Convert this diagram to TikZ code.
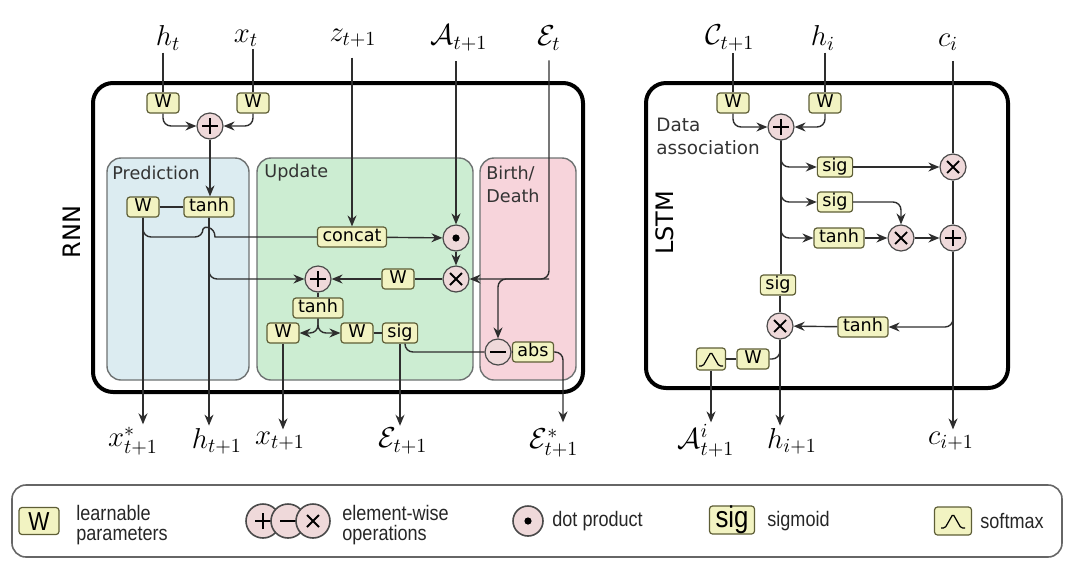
\documentclass[tikz,border=0pt]{standalone}
\usepackage{fontspec}
\usepackage{amsmath}
\usepackage{amssymb}
\usetikzlibrary{arrows.meta,calc,positioning}
\newfontfamily\diafont{DejaVu Sans}
\newfontfamily\legfont[FakeStretch=0.86]{Liberation Sans}
\definecolor{boxfill}{HTML}{F2F3C2}
\definecolor{boxline}{HTML}{5E5E36}
\definecolor{opfill}{HTML}{EFD9DA}
\definecolor{opline}{HTML}{4A4A4A}
\definecolor{predfill}{HTML}{DCECF1}
\definecolor{updfill}{HTML}{CCEDD2}
\definecolor{bdfill}{HTML}{F7D4DB}
\definecolor{panelline}{HTML}{6E7272}
\definecolor{wirecol}{HTML}{2E2E2E}
\tikzset{
  fn/.style={draw=boxline, fill=boxfill, rounded corners=1.5pt, line width=0.6pt,
    font=\diafont\fontsize{8.8}{10}\selectfont, inner xsep=2.5pt, inner ysep=0.75pt,
    text height=6.6pt, text depth=1.9pt, minimum width=16pt},
  op/.style={circle, draw=opline, fill=opfill, line width=0.6pt, minimum size=13pt, inner sep=0pt},
  addop/.style={op, path picture={\draw[black, line width=0.9pt]
    ([xshift=-4pt]path picture bounding box.center) -- ([xshift=4pt]path picture bounding box.center)
    ([yshift=-4pt]path picture bounding box.center) -- ([yshift=4pt]path picture bounding box.center);}},
  mulop/.style={op, path picture={\draw[black, line width=0.9pt]
    ([shift={(-3pt,-3pt)}]path picture bounding box.center) -- ([shift={(3pt,3pt)}]path picture bounding box.center)
    ([shift={(-3pt,3pt)}]path picture bounding box.center) -- ([shift={(3pt,-3pt)}]path picture bounding box.center);}},
  subop/.style={op, path picture={\draw[black, line width=1.1pt]
    ([xshift=-4pt]path picture bounding box.center) -- ([xshift=4pt]path picture bounding box.center);}},
  dotop/.style={op, path picture={\fill[black] (path picture bounding box.center) circle (1.8pt);}},
  smaxbox/.style={draw=boxline, fill=boxfill, rounded corners=1.5pt, line width=0.6pt,
    minimum width=14.5pt, minimum height=11pt, inner sep=0pt,
    path picture={\draw[black, line width=0.6pt, rounded corners=0.8pt]
      ([shift={(-6pt,-3.5pt)}]path picture bounding box.center) -- ([shift={(-4pt,-3.5pt)}]path picture bounding box.center)
      -- ([shift={(0pt,3.5pt)}]path picture bounding box.center) -- ([shift={(4pt,-3.5pt)}]path picture bounding box.center)
      -- ([shift={(6pt,-3.5pt)}]path picture bounding box.center);}},
  var/.style={font=\fontsize{14}{16}\selectfont, inner sep=1pt},
  wire/.style={draw=wirecol, line width=0.7pt, rounded corners=4pt},
  arr/.style={wire, -{Stealth[length=5.5pt,width=4.5pt]}},
  panel/.style={draw=panelline, line width=0.7pt, rounded corners=7pt},
  frame/.style={draw=black, line width=2pt, rounded corners=10pt},
  tag/.style={font=\diafont\fontsize{8.8}{11.5}\selectfont, text=black!80, align=left, inner sep=0pt},
  legtext/.style={font=\legfont\fontsize{10.5}{9.6}\selectfont, text=black!85, align=left, inner sep=0pt, anchor=west},
}

\begin{document}
\begin{tikzpicture}[x=0.5pt,y=-0.5pt]
\useasboundingbox (0,0) rectangle (1080,569);
% =============================================
% - frames and panels.
\draw[panel, fill=predfill] (107,158) rectangle (249,380);
\draw[panel, fill=updfill] (257,158) rectangle (473,380);
\draw[panel, fill=bdfill] (480,158) rectangle (576,380);
\draw[frame] (93,83) rectangle (583,392);
\draw[frame] (646,83) rectangle (1008,388);
\node[tag, anchor=west] (tpred) at (112,173) {Prediction};
\node[tag, anchor=west] (tupd) at (264,173) {Update};
\node[tag, anchor=west] (tbd) at (486,184) {Birth/\\Death};
\node[font=\diafont\fontsize{12}{12}\selectfont, rotate=90] (trnn) at (72,232) {RNN};
\node[font=\diafont\fontsize{12}{12}\selectfont, rotate=90] (tlstm) at (665,223) {LSTM};
\node[tag, anchor=west, font=\diafont\fontsize{9.2}{11.5}\selectfont] (tdata) at (656,136) {Data\\association};
% =============================================
% - RNN inputs and outputs.
\node[var] (ht) at (168,38) {$h_t$};
\node[var] (xt) at (246,38) {$x_t$};
\node[var] (zt) at (353,38) {$z_{t+1}$};
\node[var] (At) at (459,38) {$\mathcal{A}_{t+1}$};
\node[var] (Et) at (549,38) {$\mathcal{E}_t$};
\node[var] (xs) at (133,441) {$x^*_{t+1}$};
\node[var] (hn) at (217,441) {$h_{t+1}$};
\node[var] (xn) at (280,441) {$x_{t+1}$};
\node[var] (En) at (403,441) {$\mathcal{E}_{t+1}$};
\node[var] (Es) at (554,443) {$\mathcal{E}^*_{t+1}$};
% - RNN blocks.
\node[fn] (wh) at (163,103) {W};
\node[fn] (wx) at (253,103) {W};
\node[addop] (addin) at (210,126) {};
\node[fn] (tanhp) at (209,207) {tanh};
\node[fn] (wp) at (143,207) {W};
\node[fn] (concat) at (352,237) {concat};
\node[dotop] (dotp) at (456,238) {};
\node[mulop] (mulu) at (456,279) {};
\node[fn] (wu) at (398,279) {W};
\node[addop] (addu) at (318,279) {};
\node[fn] (tanhu) at (318,308) {tanh};
\node[fn] (wl) at (283,333) {W};
\node[fn] (wr) at (357,333) {W};
\node[fn] (sigu) at (400,333) {sig};
\node[subop] (minus) at (498,352) {};
\node[fn] (abs) at (533,352) {abs};
\coordinate (hop) at (tanhp |- concat);
\coordinate (esout) at (563,352);
% - RNN wires.
\draw[wire] (ht.south -| wh) -- (wh);
\draw[wire] (xt.south -| wx) -- (wx);
\draw[arr] (wh) |- (addin);
\draw[arr] (wx) |- (addin);
\draw[arr] (addin) -- (addin |- tanhp.north);
\draw[wire] (wp) -- (tanhp);
\draw[arr] (wp) -- (wp |- xs.north);
\draw[wire] (wp) |- ([xshift=-3pt]hop) [sharp corners] .. controls +(0,-11) and +(0,-11) .. ([xshift=3pt]hop) -- (concat);
\draw[arr] (tanhp) -- (tanhp |- hn.north);
\draw[arr] (tanhp) |- (addu);
\draw[arr] ([yshift=-4pt]zt.south -| concat) -- (concat);
\draw[arr] (concat) -- (dotp);
\draw[arr] ([yshift=-4pt]At.south -| dotp) -- (dotp);
\draw[arr] (dotp) -- (mulu);
\draw[arr] ([yshift=-4pt]Et.south) |- (mulu);
\draw[arr] (Et |- mulu) -| (minus);
\draw[wire] (mulu) -- (wu);
\draw[arr] (wu) -- (addu);
\draw[wire] (addu) -- (tanhu);
\draw[arr] (tanhu) |- (wl);
\draw[arr] (tanhu) |- (wr);
\draw[wire] (wr) -- (sigu);
\draw[arr] (wl) -- (wl |- xn.north);
\draw[arr] (sigu) -- (sigu |- En.north);
\draw[wire] ([xshift=2.5pt]sigu.south) |- (minus);
\draw[wire] (minus) -- (abs);
\draw[arr] (abs) -| ([yshift=2pt]esout |- Es.north);
% =============================================
% - LSTM inputs and outputs.
\node[var] (Ct) at (730,38) {$\mathcal{C}_{t+1}$};
\node[var] (hi) at (823,38) {$h_i$};
\node[var] (ci) at (948,42) {$c_i$};
\node[var] (An) at (706,441) {$\mathcal{A}^i_{t+1}$};
\node[var] (hn2) at (792,441) {$h_{i+1}$};
\node[var] (cn) at (951,441) {$c_{i+1}$};
% - LSTM blocks.
\node[fn] (wc) at (733,103) {W};
\node[fn] (whi) at (825,103) {W};
\node[addop] (adds) at (781,127) {};
\node[fn] (sg1) at (835,167) {sig};
\node[fn] (sg2) at (835,202) {sig};
\node[fn] (th1) at (839,238) {tanh};
\node[mulop] (mul1) at (953,167) {};
\node[mulop] (mul2) at (901,238) {};
\node[addop] (add2) at (953,238) {};
\node[fn] (sg3) at (778,285) {sig};
\node[mulop] (mul3) at (780,326) {};
\node[fn] (th2) at (863,327) {tanh};
\node[fn] (wo) at (753,359) {W};
\node[smaxbox] (smax) at (711,359) {};
% - LSTM wires.
\draw[wire] (Ct.south -| wc) -- (wc);
\draw[wire] (hi.south -| whi) -- (whi);
\draw[arr] (wc) |- (adds);
\draw[arr] (whi) |- (adds);
\draw[wire] (adds) -- (adds |- sg3.north);
\draw[wire] (sg3.south -| mul3) -- (mul3);
\draw[arr] (adds) |- (sg1);
\draw[arr] (adds) |- (sg2);
\draw[arr] (adds) |- (th1);
\draw[arr] (sg1) -- (mul1);
\draw[arr] (sg2) -| (mul2);
\draw[arr] (th1) -- (mul2);
\draw[arr] (mul2) -- (add2);
\draw[wire] ([yshift=-4pt]ci.south -| mul1) -- (mul1);
\draw[wire] (mul1) -- (add2);
\draw[arr] (add2) -- (add2 |- cn.north);
\draw[arr] (add2) |- (th2);
\draw[arr] (th2) -- (mul3);
\draw[arr] (mul3) -- (mul3 |- hn2.north);
\draw[wire] (mul3) |- (wo);
\draw[wire] (wo) -- (smax);
\draw[arr] (smax) -- (smax |- An.north);
% =============================================
% - legend.
\draw[draw=black!60, line width=0.8pt, rounded corners=7pt] (12,485) rectangle (1062,557);
\node[fn, font=\legfont\fontsize{13}{13}\selectfont, minimum width=20pt, minimum height=13.5pt, text height=9pt, text depth=0pt] (lw) at (39,521) {W};
\node[legtext] (llw) at (76,525) {learnable\\parameters};
\node[addop, minimum size=17pt, line width=0.8pt] (ladd) at (263,521) {};
\node[subop, minimum size=17pt, line width=0.8pt] (lsub) at (288,521) {};
\node[mulop, minimum size=17pt, line width=0.8pt] (lmul) at (313,521) {};
\node[legtext] (llop) at (342,525) {element-wise\\operations};
\node[dotop, minimum size=15pt, line width=0.8pt] (ldot) at (528,521) {};
\node[legtext] (lldot) at (552,521) {dot product};
\node[fn, font=\legfont\fontsize{15}{15}\selectfont, minimum width=22.5pt, minimum height=14pt, text height=10.6pt, text depth=3.3pt, inner ysep=0pt] (lsig) at (732,520) {sig};
\node[legtext] (llsig) at (767,521) {sigmoid};
\node[smaxbox, minimum width=18.5pt, minimum height=14pt] (lsmax) at (953,521) {};
\node[legtext] (llsmax) at (980,521) {softmax};
% =============================================
\end{tikzpicture}
\end{document}
